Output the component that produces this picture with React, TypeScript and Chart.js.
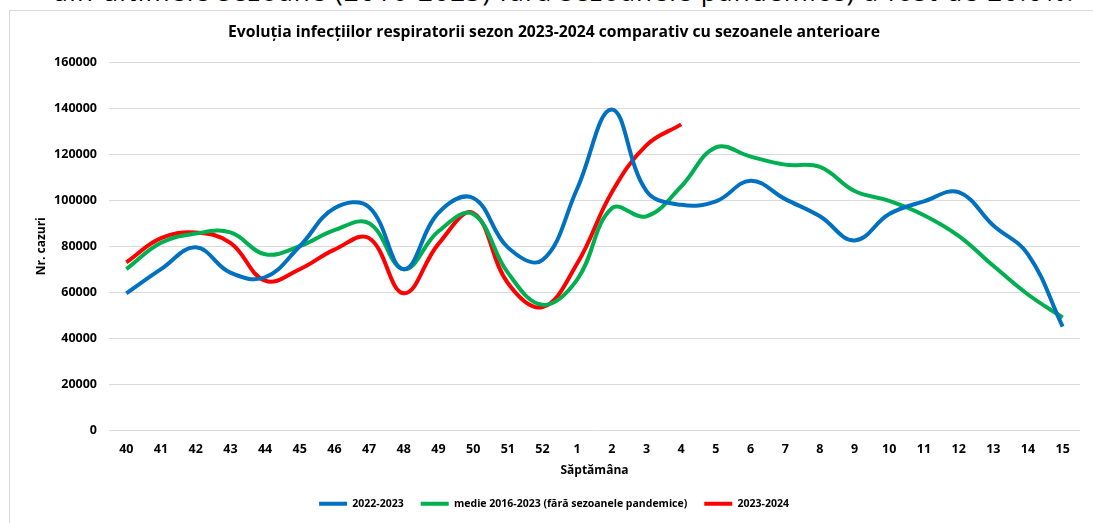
import React, { useEffect, useRef } from "react";
import { Chart, registerables } from "chart.js";

Chart.register(...registerables);

const weeks = ["40","41","42","43","44","45","46","47","48","49","50","51","52","1","2","3","4","5","6","7","8","9","10","11","12","13","14","15"];
const season2223 = [59500, 70000, 79500, 68500, 66500, 80000, 96500, 97000, 70000, 94500, 101000, 79500, 74000, 105000, 139500, 104000, 98000, 99500, 108500, 100500, 93000, 82500, 94000, 99500, 103500, 89000, 76500, 45000];
const average1623 = [70000, 81500, 85500, 86000, 76500, 80000, 87000, 90000, 70000, 86500, 94000, 68500, 54500, 65500, 96500, 93000, 106000, 123000, 119000, 115500, 114500, 104000, 99700, 93500, 84500, 71500, 59000, 49000];
const season2324 = [73000, 83500, 86000, 81500, 65000, 70000, 78500, 83500, 59500, 81000, 94500, 64000, 53500, 72500, 103500, 124000, 133000];
const yTicks = [0, 20000, 40000, 60000, 80000, 100000, 120000, 140000, 160000];

const FONT = "'Open Sans', sans-serif";

export default function App() {
  const ref = useRef<HTMLCanvasElement | null>(null);
  useEffect(() => {
    const canvas = ref.current;
    if (!canvas) return;
    const chart = new Chart(canvas, {
      type: "line",
      data: {
        labels: weeks,
        datasets: [
          { label: "2022-2023", data: season2223, borderColor: "#0070C0", backgroundColor: "#0070C0", borderWidth: 4, pointRadius: 0, tension: 0.4, fill: false },
          { label: "medie 2016-2023 (fără sezoanele pandemice)", data: average1623, borderColor: "#00B050", backgroundColor: "#00B050", borderWidth: 4, pointRadius: 0, tension: 0.4, fill: false },
          { label: "2023-2024", data: season2324, borderColor: "#FF0000", backgroundColor: "#FF0000", borderWidth: 4, pointRadius: 0, tension: 0.4, fill: false },
        ],
      },
      options: {
        responsive: false,
        animation: false,
        layout: { padding: { left: 28, right: 13, top: 10, bottom: 4 } },
        plugins: {
          title: {
            display: true,
            text: "Evoluția infecțiilor respiratorii sezon 2023-2024 comparativ cu sezoanele anterioare",
            color: "#000",
            font: { family: FONT, size: 15.7, weight: "bold" },
            padding: { top: 13.5, bottom: 20 },
          },
          legend: {
            position: "bottom",
            labels: {
              color: "#000",
              font: { family: FONT, size: 10.5, weight: "bold" },
              boxWidth: 28,
              boxHeight: 4,
              padding: 17,
              generateLabels: (c: any) => {
                const items = Chart.defaults.plugins.legend.labels.generateLabels(c);
                return items.map((it: any) => ({ ...it, fillStyle: it.strokeStyle, lineWidth: 0 }));
              },
            },
          },
          tooltip: { enabled: false },
        },
        scales: {
          x: {
            offset: true,
            grid: { display: false, drawTicks: false },
            border: { display: false },
            ticks: { color: "#000", font: { family: FONT, size: 12.5, weight: "bold" }, padding: 12, maxRotation: 0, autoSkip: false },
            title: { display: true, text: "Săptămâna", color: "#000", font: { family: FONT, size: 12, weight: "bold" }, padding: { top: -6, bottom: 4 } },
          },
          y: {
            min: 0,
            max: 160000,
            afterBuildTicks: (s: any) => { s.ticks = yTicks.map((v) => ({ value: v })); },
            afterFit: (s: any) => { s.width = 81; },
            grid: { color: "#d9d9d9", lineWidth: 1, drawTicks: false },
            border: { display: false },
            ticks: { color: "#000", font: { family: FONT, size: 12.5, weight: "bold" }, padding: 12, callback: (v: any) => String(v) },
            title: { display: true, text: "Nr. cazuri", color: "#000", font: { family: FONT, size: 12, weight: "bold" }, padding: { top: 6, bottom: 0 } },
          },
        },
      },
    });
    return () => chart.destroy();
  }, []);

  return (
    <div style={{ position: "fixed", left: 0, top: 0, width: 1093, height: 523, overflow: "hidden", background: "#fff" }}>
      <div style={{ position: "absolute", left: 52, top: -27, whiteSpace: "nowrap", fontFamily: FONT, fontSize: 26, letterSpacing: 1.25, color: "#000", lineHeight: "normal" }}>
        din ultimele sezoane (2016-2023) fără sezoanele pandemice) a fost de 20.0%.
      </div>
      <div style={{ position: "absolute", left: 9, top: 10, width: 1200, height: 700, border: "1px solid #d9d9d9", background: "#fff" }} />
      <canvas ref={ref} width={1093} height={523} style={{ position: "absolute", left: 0, top: 0, width: 1093, height: 523 }} />
    </div>
  );
}
